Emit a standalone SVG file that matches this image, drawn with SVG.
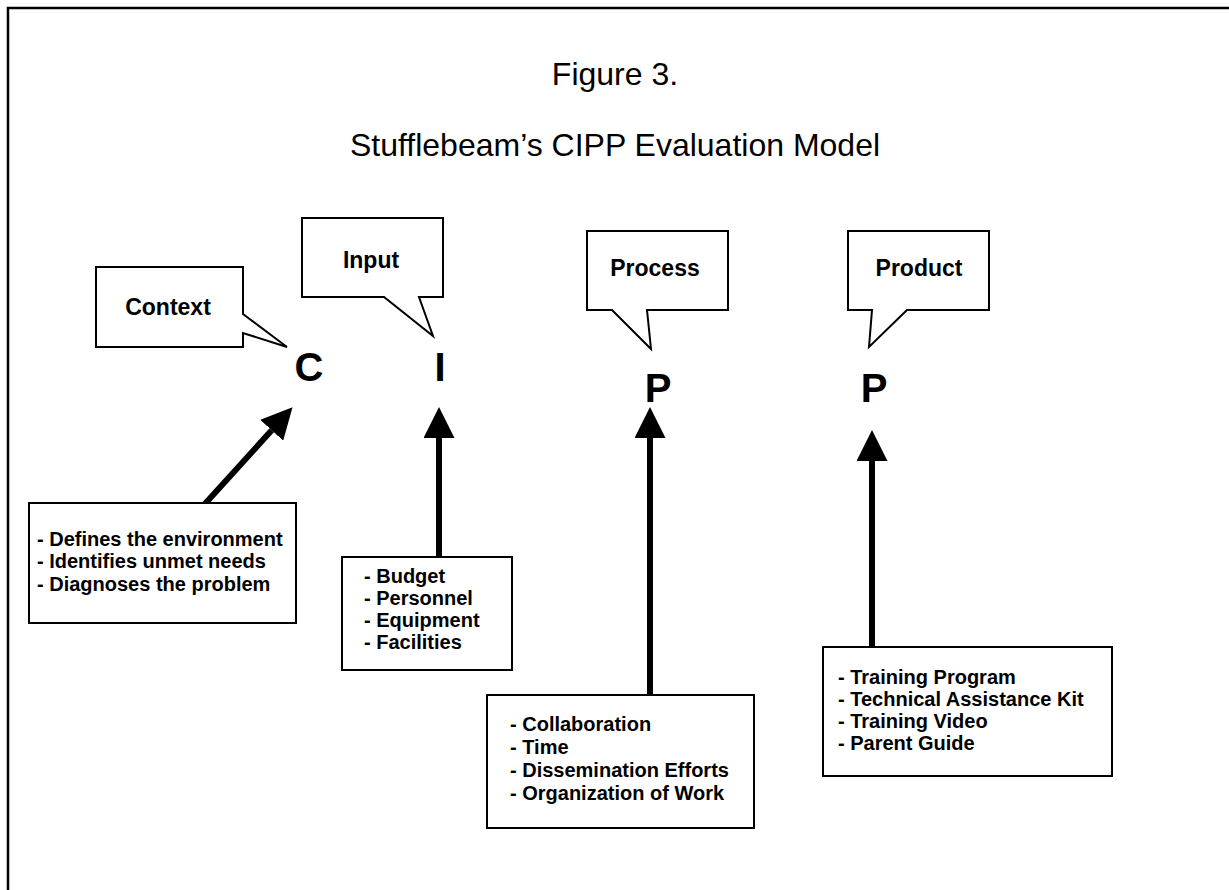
<svg xmlns="http://www.w3.org/2000/svg" width="1229" height="890" viewBox="0 0 1229 890">
<style>
.frame{stroke:#000;stroke-width:2.5;fill:none}
.callout{fill:#fff;stroke:#000;stroke-width:2}
.box{fill:#fff;stroke:#000;stroke-width:2}
.title{font-family:"Liberation Sans",Arial,sans-serif;font-size:32px;fill:#000}
.lbl{font-family:"Liberation Sans",Arial,sans-serif;font-size:23px;font-weight:bold;fill:#000}
.big{font-family:"Liberation Sans",Arial,sans-serif;font-size:40px;font-weight:bold;fill:#000}
.item{font-family:"Liberation Sans",Arial,sans-serif;font-size:20px;font-weight:bold;fill:#000}
.shaft{stroke:#000;stroke-width:6;fill:none}
</style>
<defs>
<marker id="head" markerUnits="userSpaceOnUse" markerWidth="31" markerHeight="31" refX="0" refY="15" orient="auto" viewBox="0 0 30 30">
<path d="M0,0 L30,15 L0,30 Z" fill="#000"/>
</marker>
</defs>
<rect width="1229" height="890" fill="#fff"/>
<path class="frame" d="M8,890 V8 H1229"/>
<g id="titles">
<text class="title" x="615" y="85" text-anchor="middle">Figure 3.</text>
<text class="title" x="615" y="156" text-anchor="middle">Stufflebeam’s CIPP Evaluation Model</text>
</g>
<g id="connectors">
<line class="shaft" x1="203" y1="506" x2="271.7" y2="430.3" marker-end="url(#head)"/>
<line class="shaft" x1="439" y1="558" x2="439" y2="438" marker-end="url(#head)"/>
<line class="shaft" x1="650" y1="695" x2="650" y2="438" marker-end="url(#head)"/>
<line class="shaft" x1="872" y1="647" x2="872" y2="461" marker-end="url(#head)"/>
</g>
<g id="context">
<path class="callout" d="M96,267 H243 V314 L287,347 L243,333 V347 H96 Z"/>
<text class="lbl" x="168" y="315" text-anchor="middle">Context</text>
<text class="big" x="309" y="381" text-anchor="middle">C</text>
</g>
<g id="input">
<path class="callout" d="M302,218 H443 V297 H419 L433,336 L384,297 H302 Z"/>
<text class="lbl" x="371" y="268" text-anchor="middle">Input</text>
<text class="big" x="440" y="381" text-anchor="middle">I</text>
</g>
<g id="process">
<path class="callout" d="M587,231 H728 V310 H647 L651,349 L612,310 H587 Z"/>
<text class="lbl" x="655" y="276" text-anchor="middle">Process</text>
<text class="big" x="658" y="402" text-anchor="middle">P</text>
</g>
<g id="product">
<path class="callout" d="M848,231 H989 V310 H907 L869,347 L872,310 H848 Z"/>
<text class="lbl" x="919" y="276" text-anchor="middle">Product</text>
<text class="big" x="874" y="402" text-anchor="middle">P</text>
</g>
<g id="context-list">
<rect class="box" x="29" y="503" width="267" height="120"/>
<text class="item" x="37" y="546">- Defines the environment</text>
<text class="item" x="37" y="568">- Identifies unmet needs</text>
<text class="item" x="37" y="591">- Diagnoses the problem</text>
</g>
<g id="input-list">
<rect class="box" x="342" y="557" width="170" height="113"/>
<text class="item" x="364" y="583">- Budget</text>
<text class="item" x="364" y="605">- Personnel</text>
<text class="item" x="364" y="627">- Equipment</text>
<text class="item" x="364" y="649">- Facilities</text>
</g>
<g id="process-list">
<rect class="box" x="487" y="695" width="267" height="133"/>
<text class="item" x="510" y="731">- Collaboration</text>
<text class="item" x="510" y="754">- Time</text>
<text class="item" x="510" y="777">- Dissemination Efforts</text>
<text class="item" x="510" y="800">- Organization of Work</text>
</g>
<g id="product-list">
<rect class="box" x="823" y="647" width="289" height="129"/>
<text class="item" x="838" y="684">- Training Program</text>
<text class="item" x="838" y="706">- Technical Assistance Kit</text>
<text class="item" x="838" y="728">- Training Video</text>
<text class="item" x="838" y="750">- Parent Guide</text>
</g>
</svg>
